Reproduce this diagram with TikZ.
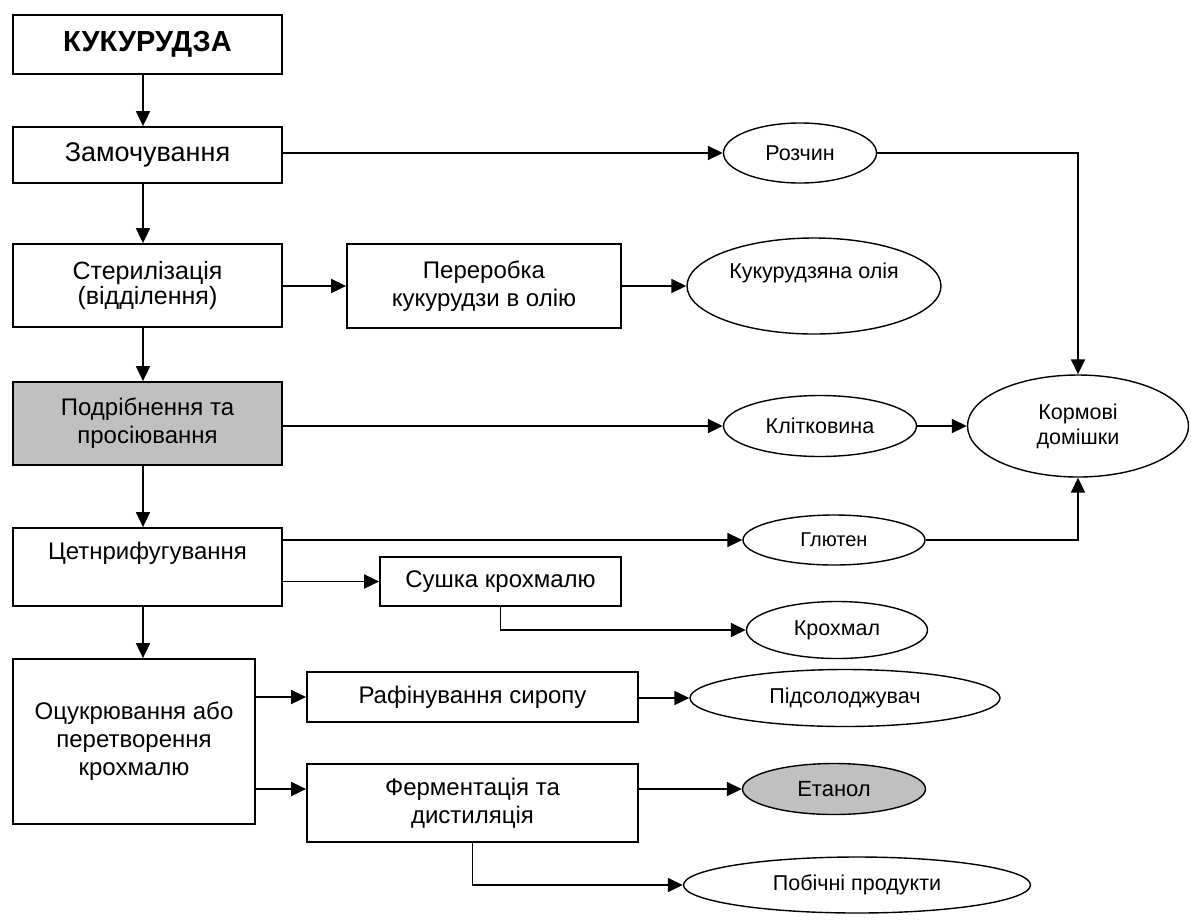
\documentclass[tikz,border=0pt]{standalone}
\usepackage{fontspec}
\setmainfont{Liberation Sans}
\usetikzlibrary{arrows.meta,shapes.geometric,calc}
\definecolor{boxgray}{HTML}{C0C0C0}
\newcommand\bxfont{\fontsize{24}{28}\selectfont}
\newcommand\elfont{\fontsize{21.5}{25}\selectfont}
\begin{document}
\begin{tikzpicture}[x=1pt,y=-1pt,
  box/.style={draw, line width=1.8pt, rectangle, inner sep=0pt, align=center, font=\bxfont},
  ell/.style={draw, ellipse, line width=1.4pt, inner sep=0pt, align=center, font=\elfont},
  arr/.style={line width=1.8pt, -{Triangle[length=15pt,width=14pt]}}]
\fill[white] (0,0) rectangle (1191,922);
\useasboundingbox (0,0) rectangle (1191,922);
% main column
\node[box, minimum width=269pt, minimum height=59pt, font=\fontsize{29}{33}\selectfont\bfseries] (kuk) at (147.5,44.5) {КУКУРУДЗА};
\node[box, minimum width=269pt, minimum height=56pt, font=\fontsize{27}{31}\selectfont] (zam) at (147.5,155) {Замочування};
\node[box, minimum width=269pt, minimum height=83pt, font=\fontsize{25}{21}\selectfont] (ster) at (147.5,285.5) {Стерилізація\\(відділення)};
\node[box, fill=boxgray, minimum width=269pt, minimum height=83pt] (podr) at (147.5,423.5) {Подрібнення та\\просіювання};
\node[box, minimum width=269pt, minimum height=78pt, label={[font=\bxfont, yshift=14pt]center:Цетнрифугування}] (cent) at (147.5,567) {};
\node[box, minimum width=242pt, minimum height=165pt] (ocuk) at (134,741.5) {Оцукрювання або\\перетворення\\крохмалю};
% side boxes
\node[box, minimum width=274pt, minimum height=84pt] (perer) at (484,286) {Переробка\\кукурудзи в олію};
\node[box, minimum width=241pt, minimum height=49pt] (sush) at (500.5,581.5) {Сушка крохмалю};
\node[box, minimum width=331pt, minimum height=50pt] (rafin) at (472.5,697) {Рафінування сиропу};
\node[box, minimum width=331pt, minimum height=78pt] (ferm) at (472.5,803) {Ферментація та\\дистиляція};
% ellipses
\node[ell, minimum width=153pt, minimum height=60pt] (roz) at (800,153) {Розчин};
\node[ell, minimum width=254pt, minimum height=96pt, label={[font=\elfont, yshift=13pt]center:Кукурудзяна олія}] (oliya) at (814,286) {};
\node[ell, minimum width=193pt, minimum height=61pt] (klit) at (820,426) {Клітковина};
\node[ell, minimum width=221pt, minimum height=102pt] (korm) at (1078,426) {Кормові\\домішки};
\node[ell, minimum width=182pt, minimum height=50pt, font=\fontsize{20}{23}\selectfont] (glut) at (834,540) {Глютен};
\node[ell, minimum width=181pt, minimum height=57pt] (krokh) at (837,630) {Крохмал};
\node[ell, minimum width=310pt, minimum height=57pt] (pids) at (845,698) {Підсолоджувач};
\node[ell, fill=boxgray, minimum width=183pt, minimum height=51pt, font=\fontsize{22}{25}\selectfont] (etan) at (834,789) {Етанол};
\node[ell, minimum width=347pt, minimum height=56pt] (pob) at (857,885) {Побічні продукти};
% connectors
\coordinate (axis) at (143,0);
\draw[arr] (kuk.south -| axis) -- (zam.north -| axis);
\draw[arr] (zam.south -| axis) -- (ster.north -| axis);
\draw[arr] (ster.south -| axis) -- (podr.north -| axis);
\draw[arr] (podr.south -| axis) -- (cent.north -| axis);
\draw[arr] (cent.south -| axis) -- (ocuk.north -| axis);
\draw[arr] (zam.east |- roz.west) -- (roz.west);
\draw[arr] (roz.east) -| (korm.north);
\draw[arr] (ster.east |- perer.west) -- (perer.west);
\draw[arr] (perer.east) -- (oliya.west);
\draw[arr] (podr.east |- klit.west) -- (klit.west);
\draw[arr] (klit.east) -- (korm.west);
\draw[arr] (cent.east |- glut.west) -- (glut.west);
\draw[arr] (glut.east) -| (korm.south);
\draw[arr] (cent.east |- sush.west) -- (sush.west);
\draw[arr] (sush.south) |- (krokh.west);
\draw[arr] (ocuk.east |- rafin.west) -- (rafin.west);
\draw[arr] (rafin.east |- pids.west) -- (pids.west);
\draw[arr] (ocuk.east |- etan.west) -- (ferm.west |- etan.west);
\draw[arr] (ferm.east |- etan.west) -- (etan.west);
\draw[arr] (ferm.south) |- (pob.west);
\end{tikzpicture}
\end{document}
